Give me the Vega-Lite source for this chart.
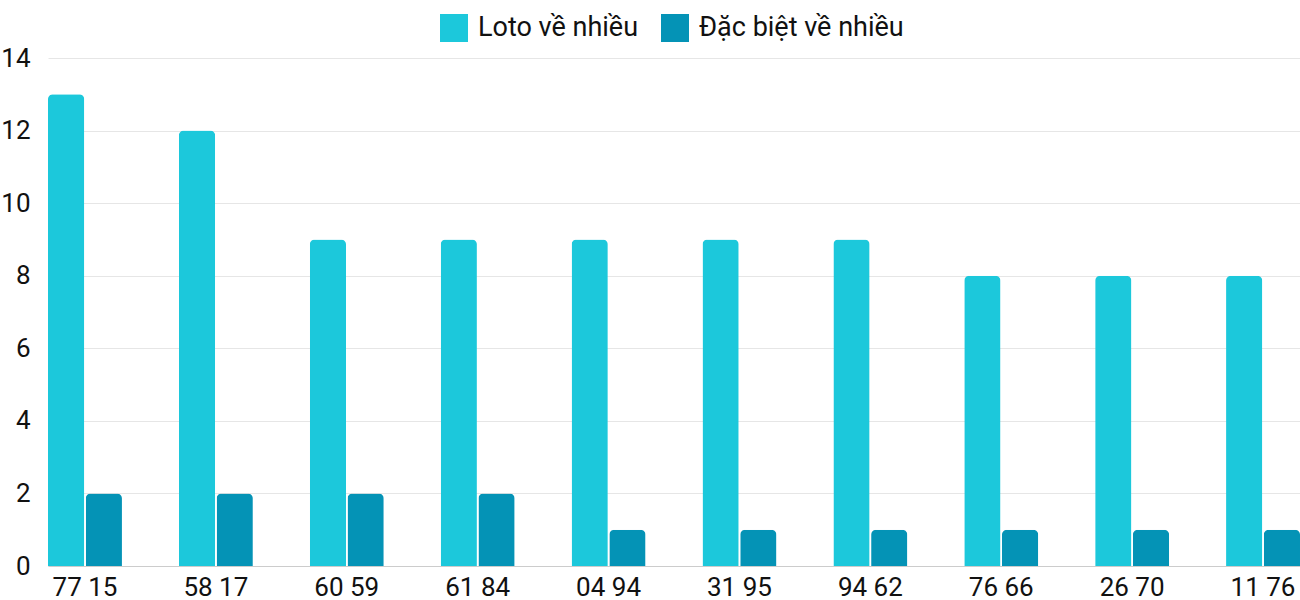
{
  "$schema": "https://vega.github.io/schema/vega-lite/v6.json",
  "width": 1252,
  "height": 508,
  "autosize": "none",
  "padding": {"left": 48, "top": 58, "right": 0, "bottom": 34},
  "background": "white",
  "config": {
    "font": "Roboto",
    "view": {"stroke": null}
  },
  "data": {
    "values": [
      {"cap": "77 15", "series": "Loto về nhiều", "value": 13},
      {"cap": "77 15", "series": "Đặc biệt về nhiều", "value": 2},
      {"cap": "58 17", "series": "Loto về nhiều", "value": 12},
      {"cap": "58 17", "series": "Đặc biệt về nhiều", "value": 2},
      {"cap": "60 59", "series": "Loto về nhiều", "value": 9},
      {"cap": "60 59", "series": "Đặc biệt về nhiều", "value": 2},
      {"cap": "61 84", "series": "Loto về nhiều", "value": 9},
      {"cap": "61 84", "series": "Đặc biệt về nhiều", "value": 2},
      {"cap": "04 94", "series": "Loto về nhiều", "value": 9},
      {"cap": "04 94", "series": "Đặc biệt về nhiều", "value": 1},
      {"cap": "31 95", "series": "Loto về nhiều", "value": 9},
      {"cap": "31 95", "series": "Đặc biệt về nhiều", "value": 1},
      {"cap": "94 62", "series": "Loto về nhiều", "value": 9},
      {"cap": "94 62", "series": "Đặc biệt về nhiều", "value": 1},
      {"cap": "76 66", "series": "Loto về nhiều", "value": 8},
      {"cap": "76 66", "series": "Đặc biệt về nhiều", "value": 1},
      {"cap": "26 70", "series": "Loto về nhiều", "value": 8},
      {"cap": "26 70", "series": "Đặc biệt về nhiều", "value": 1},
      {"cap": "11 76", "series": "Loto về nhiều", "value": 8},
      {"cap": "11 76", "series": "Đặc biệt về nhiều", "value": 1}
    ]
  },
  "mark": {"type": "bar", "cornerRadiusTopLeft": 5, "cornerRadiusTopRight": 5},
  "encoding": {
    "x": {
      "field": "cap",
      "type": "nominal",
      "sort": null,
      "scale": {"paddingInner": 0.435, "paddingOuter": 0, "align": 0},
      "axis": {
        "title": null,
        "labelAngle": 0,
        "labelFontSize": 26,
        "labelColor": "#111111",
        "labelPadding": 8,
        "ticks": false,
        "domainColor": "#cccccc",
        "grid": false
      }
    },
    "xOffset": {
      "field": "series",
      "type": "nominal",
      "sort": ["Loto về nhiều", "Đặc biệt về nhiều"],
      "scale": {"paddingInner": 0.04}
    },
    "y": {
      "field": "value",
      "type": "quantitative",
      "scale": {"domain": [0, 14], "nice": false},
      "axis": {
        "title": null,
        "values": [0, 2, 4, 6, 8, 10, 12, 14],
        "labelFontSize": 26,
        "labelColor": "#111111",
        "labelPadding": 18,
        "ticks": false,
        "domain": false,
        "gridColor": "#e6e6e6"
      }
    },
    "color": {
      "field": "series",
      "type": "nominal",
      "sort": ["Loto về nhiều", "Đặc biệt về nhiều"],
      "scale": {"domain": ["Loto về nhiều", "Đặc biệt về nhiều"], "range": ["#1cc8db", "#0493b6"]},
      "legend": {
        "title": null,
        "orient": "none",
        "legendX": 392,
        "legendY": -44,
        "direction": "horizontal",
        "symbolType": "square",
        "symbolSize": 784,
        "symbolStrokeWidth": 0,
        "symbolOpacity": 1,
        "labelFontSize": 27,
        "labelLimit": 400,
        "labelColor": "#111111",
        "labelOffset": 10,
        "columnPadding": 22
      }
    }
  }
}
